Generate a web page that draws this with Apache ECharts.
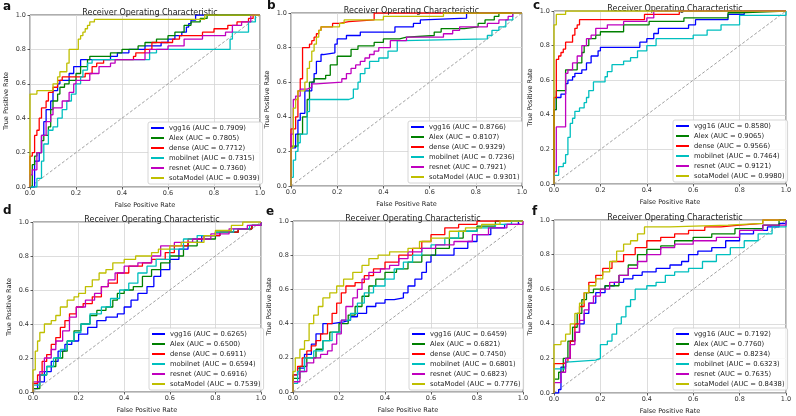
<!DOCTYPE html>
<html><head><meta charset="utf-8">
<script src="https://cdn.jsdelivr.net/npm/echarts@6/dist/echarts.min.js"></script>
<style>html,body{margin:0;padding:0;background:#fff}#c{width:796px;height:416px}</style>
</head><body><div id="c"></div>
<script>
// ---- data ----
const models = ['vgg16','Alex','dense','mobilnet','resnet','sotaModel'];
const panelLetters = ['a','b','c','d','e','f'];
const ticks = [0.0,0.2,0.4,0.6,0.8,1.0];
const aucA = ['0.7909','0.7805','0.7712','0.7315','0.7360','0.9039'];
const aucB = ['0.8766','0.8107','0.9329','0.7236','0.7921','0.9301'];
const aucC = ['0.8580','0.9065','0.9566','0.7464','0.9121','0.9980'];
const aucD = ['0.6265','0.6500','0.6911','0.6594','0.6916','0.7539'];
const aucE = ['0.6459','0.6821','0.7450','0.6801','0.6823','0.7776'];
const aucF = ['0.7192','0.7760','0.8234','0.6323','0.7635','0.8438'];
// ROC points: [fpr, tpr] ("at fpr, rise to tpr")
const aVgg=[[0,0],[0.02,0.15],[0.04,0.2],[0.05,0.3],[0.06,0.38],[0.07,0.45],[0.09,0.5],[0.1,0.56],[0.12,0.6],[0.13,0.62],[0.17,0.66],[0.19,0.7],[0.22,0.74],[0.35,0.76],[0.38,0.78],[0.43,0.8],[0.5,0.82],[0.57,0.84],[0.6,0.86],[0.63,0.88],[0.66,0.9],[0.68,0.93],[0.69,0.95],[0.7,0.97],[0.72,1],[1,1]];
const aAlex=[[0,0],[0.01,0.13],[0.02,0.18],[0.03,0.2],[0.05,0.27],[0.06,0.3],[0.08,0.35],[0.09,0.45],[0.1,0.5],[0.12,0.54],[0.13,0.58],[0.15,0.6],[0.17,0.62],[0.2,0.66],[0.22,0.7],[0.25,0.74],[0.26,0.76],[0.35,0.78],[0.4,0.8],[0.47,0.82],[0.5,0.84],[0.55,0.86],[0.6,0.88],[0.63,0.9],[0.67,0.94],[0.7,0.96],[0.74,0.98],[0.77,1],[1,1]];
const aDense=[[0,0],[0,0.18],[0.01,0.2],[0.02,0.3],[0.03,0.33],[0.04,0.4],[0.05,0.46],[0.07,0.5],[0.08,0.55],[0.1,0.58],[0.12,0.62],[0.14,0.64],[0.24,0.66],[0.27,0.7],[0.29,0.72],[0.32,0.74],[0.45,0.76],[0.46,0.78],[0.5,0.8],[0.53,0.84],[0.62,0.86],[0.65,0.88],[0.75,0.9],[0.8,0.92],[0.86,0.94],[0.9,0.96],[0.95,0.98],[0.97,1],[1,1]];
const aMob=[[0,0],[0.03,0.05],[0.05,0.15],[0.06,0.25],[0.08,0.33],[0.1,0.35],[0.12,0.4],[0.14,0.45],[0.16,0.5],[0.18,0.54],[0.2,0.6],[0.22,0.64],[0.23,0.68],[0.25,0.72],[0.27,0.74],[0.52,0.78],[0.55,0.8],[0.87,0.86],[0.88,0.9],[0.95,0.96],[0.98,1],[1,1]];
const aRes=[[0,0],[0,0.07],[0.01,0.1],[0.03,0.2],[0.05,0.3],[0.07,0.38],[0.09,0.42],[0.1,0.46],[0.14,0.5],[0.17,0.55],[0.19,0.6],[0.2,0.62],[0.26,0.66],[0.3,0.7],[0.35,0.72],[0.37,0.74],[0.5,0.78],[0.52,0.8],[0.6,0.82],[0.67,0.86],[0.75,0.88],[0.85,0.9],[0.88,0.94],[0.92,0.96],[0.96,1],[1,1]];
const aSota=[[0,0],[0,0.54],[0.03,0.56],[0.1,0.6],[0.12,0.64],[0.13,0.67],[0.16,0.72],[0.17,0.8],[0.21,0.86],[0.22,0.88],[0.23,0.9],[0.24,0.92],[0.25,0.94],[0.26,0.96],[0.28,0.975],[0.76,1],[1,1]];

const bVgg=[[0,0],[0,0.22],[0.02,0.3],[0.03,0.38],[0.04,0.42],[0.06,0.55],[0.09,0.6],[0.1,0.65],[0.11,0.72],[0.13,0.76],[0.14,0.77],[0.19,0.82],[0.2,0.85],[0.24,0.87],[0.3,0.89],[0.45,0.92],[0.53,0.94],[0.56,0.96],[0.57,0.97],[0.76,1],[1,1]];
const bAlex=[[0,0],[0,0.23],[0.03,0.3],[0.05,0.4],[0.07,0.5],[0.08,0.6],[0.1,0.62],[0.15,0.64],[0.17,0.7],[0.2,0.75],[0.26,0.79],[0.29,0.81],[0.36,0.83],[0.4,0.85],[0.47,0.86],[0.5,0.87],[0.62,0.89],[0.65,0.91],[0.75,0.92],[0.81,0.94],[0.84,0.96],[0.88,0.98],[0.9,1],[1,1]];
const bDense=[[0,0],[0,0.33],[0.02,0.4],[0.03,0.55],[0.04,0.62],[0.05,0.8],[0.08,0.82],[0.09,0.84],[0.1,0.86],[0.11,0.88],[0.12,0.9],[0.13,0.92],[0.18,0.94],[0.21,0.95],[0.25,0.96],[0.36,1],[1,1]];
const bMob=[[0,0],[0,0.05],[0.01,0.15],[0.02,0.2],[0.03,0.25],[0.04,0.3],[0.07,0.43],[0.08,0.5],[0.25,0.51],[0.27,0.56],[0.29,0.6],[0.3,0.65],[0.32,0.68],[0.34,0.72],[0.38,0.74],[0.42,0.78],[0.46,0.84],[0.49,0.85],[0.85,0.87],[0.87,0.9],[0.9,0.92],[0.93,0.96],[0.96,1],[1,1]];
const bRes=[[0,0],[0,0.3],[0.01,0.5],[0.02,0.52],[0.04,0.56],[0.07,0.57],[0.09,0.59],[0.11,0.6],[0.22,0.62],[0.24,0.65],[0.26,0.68],[0.28,0.7],[0.3,0.72],[0.32,0.74],[0.34,0.76],[0.36,0.78],[0.38,0.8],[0.43,0.84],[0.5,0.86],[0.66,0.88],[0.7,0.9],[0.73,0.92],[0.85,0.94],[0.9,0.96],[0.94,0.98],[0.96,1],[1,1]];
const bSota=[[0,0],[0,0.22],[0.01,0.45],[0.02,0.5],[0.03,0.55],[0.06,0.6],[0.07,0.68],[0.08,0.72],[0.09,0.78],[0.1,0.82],[0.11,0.86],[0.12,0.9],[0.13,0.92],[0.21,0.94],[0.23,0.96],[0.4,0.98],[0.66,1],[1,1]];

const cVgg=[[0,0],[0,0.43],[0.01,0.5],[0.03,0.52],[0.05,0.58],[0.06,0.6],[0.08,0.62],[0.09,0.64],[0.12,0.66],[0.14,0.7],[0.16,0.74],[0.19,0.77],[0.2,0.79],[0.37,0.82],[0.4,0.84],[0.43,0.87],[0.45,0.9],[0.58,0.92],[0.61,0.95],[0.75,0.98],[0.82,1],[1,1]];
const cAlex=[[0,0],[0,0.43],[0.01,0.54],[0.05,0.66],[0.1,0.7],[0.12,0.76],[0.13,0.8],[0.15,0.84],[0.18,0.86],[0.2,0.88],[0.3,0.92],[0.41,0.94],[0.56,0.96],[0.75,0.99],[0.8,1],[1,1]];
const cDense=[[0,0],[0,0.5],[0.01,0.72],[0.02,0.74],[0.03,0.76],[0.04,0.78],[0.05,0.82],[0.08,0.86],[0.09,0.9],[0.1,0.92],[0.11,0.95],[0.39,0.98],[0.54,1],[1,1]];
const cMob=[[0,0],[0,0.05],[0.02,0.1],[0.04,0.12],[0.05,0.17],[0.06,0.27],[0.07,0.35],[0.08,0.38],[0.09,0.42],[0.11,0.44],[0.13,0.47],[0.14,0.5],[0.15,0.54],[0.17,0.59],[0.22,0.62],[0.23,0.65],[0.25,0.69],[0.3,0.71],[0.33,0.73],[0.36,0.77],[0.4,0.8],[0.44,0.84],[0.6,0.86],[0.66,0.89],[0.72,0.92],[0.8,0.975],[1,1]];
const cRes=[[0,0],[0,0.07],[0.01,0.33],[0.05,0.64],[0.06,0.66],[0.08,0.7],[0.1,0.74],[0.12,0.8],[0.14,0.84],[0.16,0.86],[0.18,0.9],[0.23,0.92],[0.3,0.94],[0.4,0.96],[0.43,1],[1,1]];
const cSota=[[0,0],[0,0.92],[0.01,0.98],[0.05,1],[1,1]];

const dVgg=[[0,0],[0,0.02],[0.02,0.06],[0.05,0.12],[0.08,0.18],[0.11,0.24],[0.14,0.28],[0.17,0.3],[0.2,0.34],[0.24,0.38],[0.28,0.42],[0.32,0.44],[0.37,0.46],[0.4,0.5],[0.43,0.54],[0.46,0.58],[0.5,0.62],[0.53,0.68],[0.56,0.72],[0.6,0.78],[0.64,0.84],[0.68,0.88],[0.74,0.92],[0.82,0.94],[0.9,0.96],[0.96,0.98],[1,1]];
const dAlex=[[0,0],[0,0.02],[0.03,0.1],[0.06,0.15],[0.1,0.2],[0.13,0.24],[0.15,0.3],[0.18,0.36],[0.21,0.4],[0.25,0.45],[0.28,0.48],[0.32,0.5],[0.35,0.54],[0.37,0.58],[0.4,0.6],[0.44,0.62],[0.48,0.68],[0.52,0.72],[0.56,0.76],[0.6,0.8],[0.66,0.86],[0.72,0.9],[0.8,0.94],[0.9,0.96],[0.96,0.98],[1,1]];
const dDense=[[0,0],[0,0.05],[0.02,0.1],[0.04,0.18],[0.06,0.22],[0.08,0.28],[0.1,0.32],[0.12,0.38],[0.14,0.42],[0.16,0.46],[0.19,0.5],[0.22,0.52],[0.26,0.56],[0.3,0.62],[0.33,0.64],[0.37,0.7],[0.42,0.74],[0.48,0.76],[0.52,0.78],[0.58,0.82],[0.62,0.86],[0.68,0.9],[0.75,0.92],[0.82,0.94],[0.9,0.96],[0.96,0.98],[1,1]];
const dMob=[[0,0],[0,0.04],[0.03,0.1],[0.06,0.15],[0.09,0.2],[0.12,0.25],[0.15,0.3],[0.18,0.35],[0.21,0.4],[0.25,0.46],[0.3,0.5],[0.34,0.55],[0.38,0.6],[0.42,0.64],[0.46,0.7],[0.5,0.74],[0.54,0.78],[0.6,0.84],[0.66,0.9],[0.72,0.92],[0.8,0.94],[0.88,0.96],[0.95,0.98],[1,1]];
const dRes=[[0,0],[0,0.06],[0.03,0.12],[0.05,0.2],[0.08,0.25],[0.1,0.3],[0.13,0.36],[0.16,0.44],[0.19,0.5],[0.23,0.54],[0.27,0.58],[0.3,0.62],[0.33,0.66],[0.36,0.7],[0.4,0.74],[0.46,0.76],[0.52,0.8],[0.56,0.86],[0.62,0.88],[0.7,0.9],[0.78,0.93],[0.86,0.96],[0.94,0.98],[1,1]];
const dSota=[[0,0],[0,0.13],[0.01,0.24],[0.02,0.3],[0.03,0.35],[0.05,0.4],[0.08,0.42],[0.1,0.45],[0.12,0.5],[0.15,0.54],[0.18,0.56],[0.2,0.58],[0.23,0.62],[0.26,0.66],[0.29,0.7],[0.32,0.72],[0.35,0.76],[0.4,0.78],[0.45,0.8],[0.52,0.82],[0.55,0.84],[0.6,0.86],[0.65,0.88],[0.75,0.92],[0.8,0.95],[0.87,0.98],[0.92,1],[1,1]];

const eVgg=[[0,0],[0,0.1],[0.02,0.14],[0.05,0.22],[0.08,0.28],[0.1,0.34],[0.13,0.4],[0.17,0.41],[0.22,0.42],[0.25,0.44],[0.28,0.46],[0.32,0.5],[0.36,0.52],[0.4,0.54],[0.44,0.55],[0.48,0.58],[0.5,0.62],[0.53,0.66],[0.56,0.7],[0.58,0.76],[0.6,0.8],[0.66,0.8],[0.7,0.84],[0.76,0.88],[0.8,0.92],[0.86,0.96],[0.92,0.98],[0.98,1],[1,1]];
const eAlex=[[0,0],[0,0.08],[0.03,0.15],[0.06,0.2],[0.1,0.25],[0.13,0.3],[0.16,0.35],[0.2,0.4],[0.24,0.45],[0.27,0.5],[0.3,0.56],[0.33,0.62],[0.36,0.66],[0.4,0.7],[0.45,0.72],[0.5,0.76],[0.56,0.8],[0.62,0.84],[0.68,0.9],[0.74,0.94],[0.8,0.97],[0.88,1],[1,1]];
const eDense=[[0,0],[0,0.1],[0.02,0.15],[0.04,0.2],[0.06,0.24],[0.08,0.27],[0.1,0.3],[0.12,0.34],[0.15,0.4],[0.17,0.46],[0.19,0.52],[0.21,0.58],[0.23,0.62],[0.27,0.64],[0.31,0.68],[0.35,0.72],[0.4,0.76],[0.46,0.8],[0.52,0.84],[0.56,0.88],[0.6,0.92],[0.66,0.96],[0.72,0.98],[0.8,1],[1,1]];
const eMob=[[0,0],[0,0.05],[0.02,0.12],[0.05,0.2],[0.09,0.24],[0.13,0.3],[0.17,0.35],[0.21,0.42],[0.25,0.46],[0.28,0.52],[0.31,0.58],[0.35,0.62],[0.4,0.66],[0.44,0.72],[0.48,0.76],[0.52,0.8],[0.56,0.84],[0.6,0.86],[0.66,0.9],[0.72,0.94],[0.8,0.96],[0.88,0.98],[0.95,1],[1,1]];
const eRes=[[0,0],[0,0.06],[0.03,0.12],[0.06,0.17],[0.09,0.2],[0.12,0.22],[0.15,0.24],[0.17,0.28],[0.19,0.34],[0.21,0.42],[0.23,0.5],[0.26,0.55],[0.28,0.6],[0.3,0.66],[0.33,0.7],[0.38,0.72],[0.42,0.74],[0.46,0.78],[0.5,0.82],[0.56,0.84],[0.62,0.86],[0.7,0.88],[0.78,0.92],[0.85,0.96],[0.93,0.98],[1,1]];
const eSota=[[0,0],[0,0.12],[0.01,0.2],[0.03,0.25],[0.05,0.3],[0.07,0.4],[0.09,0.45],[0.11,0.5],[0.13,0.55],[0.16,0.58],[0.19,0.62],[0.22,0.66],[0.26,0.7],[0.3,0.74],[0.33,0.78],[0.37,0.8],[0.42,0.82],[0.5,0.84],[0.55,0.88],[0.6,0.9],[0.68,0.94],[0.75,0.96],[0.82,0.98],[0.9,1],[1,1]];

const fVgg=[[0,0],[0.02,0.02],[0.03,0.15],[0.05,0.2],[0.07,0.3],[0.09,0.35],[0.11,0.4],[0.13,0.46],[0.15,0.52],[0.18,0.58],[0.22,0.62],[0.26,0.64],[0.3,0.66],[0.34,0.68],[0.38,0.7],[0.44,0.72],[0.5,0.74],[0.55,0.76],[0.58,0.8],[0.62,0.82],[0.68,0.84],[0.74,0.88],[0.8,0.92],[0.86,0.94],[0.92,0.96],[0.97,0.98],[1,1]];
const fAlex=[[0,0],[0,0.08],[0.02,0.12],[0.04,0.2],[0.06,0.3],[0.08,0.38],[0.1,0.46],[0.12,0.54],[0.14,0.58],[0.17,0.6],[0.22,0.62],[0.28,0.68],[0.32,0.74],[0.36,0.8],[0.4,0.83],[0.46,0.85],[0.52,0.88],[0.6,0.9],[0.68,0.92],[0.78,0.95],[0.9,0.97],[0.97,1],[1,1]];
const fDense=[[0,0],[0,0.17],[0.04,0.18],[0.06,0.2],[0.07,0.3],[0.09,0.4],[0.11,0.5],[0.13,0.58],[0.15,0.64],[0.18,0.68],[0.21,0.72],[0.25,0.76],[0.3,0.8],[0.35,0.84],[0.4,0.88],[0.46,0.9],[0.52,0.92],[0.58,0.94],[0.65,0.96],[0.72,0.97],[0.8,0.98],[0.9,1],[1,1]];
const fMob=[[0,0],[0,0.14],[0.05,0.18],[0.07,0.19],[0.18,0.2],[0.2,0.28],[0.23,0.3],[0.25,0.34],[0.27,0.4],[0.29,0.44],[0.31,0.5],[0.33,0.54],[0.35,0.6],[0.4,0.62],[0.44,0.64],[0.48,0.68],[0.52,0.7],[0.58,0.72],[0.64,0.76],[0.7,0.8],[0.76,0.84],[0.82,0.88],[0.88,0.92],[0.94,0.96],[1,1]];
const fRes=[[0,0],[0,0.06],[0.03,0.12],[0.05,0.2],[0.07,0.28],[0.09,0.35],[0.11,0.42],[0.13,0.48],[0.15,0.52],[0.17,0.56],[0.2,0.6],[0.24,0.64],[0.28,0.68],[0.32,0.72],[0.36,0.76],[0.4,0.8],[0.46,0.84],[0.52,0.86],[0.6,0.88],[0.7,0.9],[0.8,0.94],[0.9,0.97],[1,1]];
const fSota=[[0,0],[0,0.28],[0.03,0.3],[0.05,0.34],[0.07,0.4],[0.09,0.46],[0.11,0.52],[0.13,0.58],[0.15,0.62],[0.18,0.66],[0.21,0.7],[0.24,0.76],[0.27,0.82],[0.3,0.86],[0.33,0.88],[0.36,0.92],[0.39,0.96],[0.5,0.97],[0.75,0.98],[0.9,1],[1,1]];

const panelCurves = [
  [aVgg,aAlex,aDense,aMob,aRes,aSota],
  [bVgg,bAlex,bDense,bMob,bRes,bSota],
  [cVgg,cAlex,cDense,cMob,cRes,cSota],
  [dVgg,dAlex,dDense,dMob,dRes,dSota],
  [eVgg,eAlex,eDense,eMob,eRes,eSota],
  [fVgg,fAlex,fDense,fMob,fRes,fSota]
];
const panelAucs = [aucA,aucB,aucC,aucD,aucE,aucF];

// ---- layout / style ----
const colors = ['#0000ff','#008000','#ff0000','#00bfbf','#bf00bf','#bfbf00'];
const grids = [
  {left:30,top:15,width:230,height:172},
  {left:291,top:13,width:231,height:173},
  {left:554,top:11,width:232,height:173},
  {left:33,top:222,width:228,height:170},
  {left:293,top:221,width:230,height:171},
  {left:554,top:220,width:232,height:174}
];
const legendPos = [
  {left:148,top:122},{left:408,top:121},{left:673,top:120},
  {left:149,top:328},{left:409,top:328},{left:673,top:328}
];
const letterPos = [[3,1],[267,0],[533,0],[3,205],[266,206],[532,206]];
const FONT = 'DejaVu Sans';

const option = {
  animation:false,
  backgroundColor:'#fff',
  textStyle:{fontFamily:FONT},
  title:[], grid:[], xAxis:[], yAxis:[], series:[], legend:[], graphic:[]
};

grids.forEach((g,i)=>{
  option.grid.push(Object.assign({show:true,borderColor:'#333',borderWidth:0.8,backgroundColor:'#fff',containLabel:false},g));
  option.title.push({text:'Receiver Operating Characteristic',left:g.left+g.width/2,top:g.top-11,textAlign:'center',
    textStyle:{fontFamily:FONT,fontSize:8,fontWeight:'normal',color:'#222'}});
  option.xAxis.push({type:'value',gridIndex:i,min:0,max:1,interval:0.2,
    name:'False Positive Rate',nameLocation:'middle',nameGap:15,
    nameTextStyle:{fontFamily:FONT,fontSize:6.5,color:'#222'},
    axisLine:{show:false},axisTick:{show:true,length:2.5,lineStyle:{color:'#333',width:0.8}},
    axisLabel:{fontFamily:FONT,fontSize:6.5,color:'#333',margin:3,formatter:v=>v.toFixed(1)},
    splitLine:{show:true,lineStyle:{color:'#d4d4d4',width:0.8}}});
  option.yAxis.push({type:'value',gridIndex:i,min:0,max:1,interval:0.2,
    name:'True Positive Rate',nameLocation:'middle',nameGap:20,
    nameTextStyle:{fontFamily:FONT,fontSize:6.5,color:'#222'},
    axisLine:{show:false},axisTick:{show:true,length:2.5,lineStyle:{color:'#333',width:0.8}},
    axisLabel:{fontFamily:FONT,fontSize:6.5,color:'#333',margin:4,formatter:v=>v.toFixed(1)},
    splitLine:{show:true,lineStyle:{color:'#d4d4d4',width:0.8}}});
  option.series.push({type:'line',xAxisIndex:i,yAxisIndex:i,data:[[0,0],[1,1]],symbol:'none',silent:true,
    lineStyle:{color:'#888',width:0.8,type:[3,2]},z:1});
  const names=[];
  models.forEach((m,k)=>{
    const nm = m+' (AUC = '+panelAucs[i][k]+')';
    names.push(nm);
    option.series.push({type:'line',name:nm,xAxisIndex:i,yAxisIndex:i,data:panelCurves[i][k],step:'end',
      symbol:'none',color:colors[k],lineStyle:{color:colors[k],width:1.3},z:2+k});
  });
  option.legend.push(Object.assign({orient:'vertical',data:names,icon:'rect',itemWidth:13,itemHeight:2,itemGap:2,
    padding:[2,3,2,3],borderColor:'#ccc',borderWidth:0.8,borderRadius:2,backgroundColor:'rgba(255,255,255,0.85)',
    selectedMode:false,textStyle:{fontFamily:FONT,fontSize:6.8,color:'#222',lineHeight:8}},legendPos[i]));
  option.graphic.push({type:'text',left:letterPos[i][0],top:letterPos[i][1],
    style:{text:panelLetters[i],fontFamily:FONT,fontSize:12,fontWeight:'bold',fill:'#111'}});
});

const chart = echarts.init(document.getElementById('c'),null,{renderer:'canvas'});
chart.setOption(option);
</script></body></html>
